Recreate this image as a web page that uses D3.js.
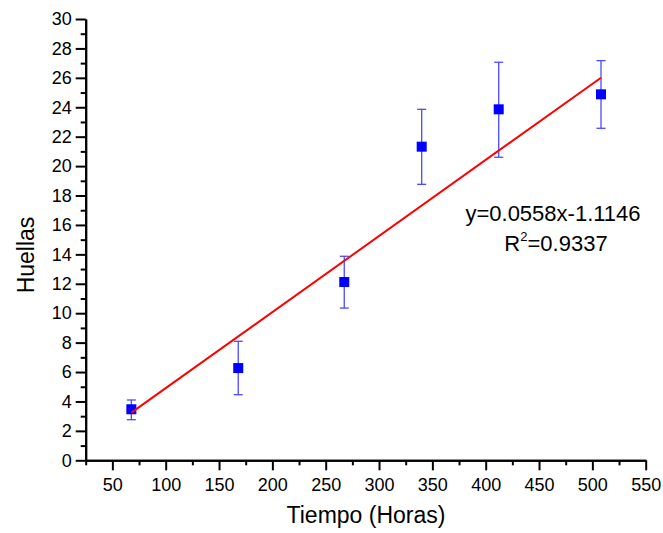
<!DOCTYPE html>
<html><head><meta charset="utf-8">
<script src="https://cdn.jsdelivr.net/npm/d3@7"></script>
<style>body{margin:0;background:#fff}svg{display:block}text{font-family:"Liberation Sans",Arial,sans-serif}</style>
</head><body><svg id="c" width="663" height="533"></svg>
<script>
const xVals = [67.8, 168, 267.4, 340, 412.2, 508.1];
const yVals = [3.47, 6.27, 12.12, 21.32, 23.86, 24.88];
const yHigh = [4.10, 8.09, 13.87, 23.86, 27.06, 27.17];
const yLow  = [2.76, 4.46, 10.35, 18.76, 20.60, 22.57];
const fitX = [67.8, 508.1];
const fitY = [3.24, 26.01];
const xTicks = [50,100,150,200,250,300,350,400,450,500,550];
const yTicks = [0,2,4,6,8,10,12,14,16,18,20,22,24,26,28,30];
const equation = "y=0.0558x-1.1146";
const r2Value = "=0.9337";

const svg = d3.select("#c");
const x = d3.scaleLinear().domain([25,550]).range([85.7,645.7]);
const y = d3.scaleLinear().domain([0,30]).range([460.3,19]);

const xMinor = d3.range(25,551,25).filter(v=>!xTicks.includes(v));
const yMinor = d3.range(1,30,2);

svg.append("g").attr("transform","translate(0,460.3)")
  .call(d3.axisBottom(x).tickValues(xMinor).tickSize(5).tickSizeOuter(0).tickFormat(""));
svg.append("g").attr("transform","translate(0,460.3)")
  .call(d3.axisBottom(x).tickValues(xTicks).tickSize(10).tickSizeOuter(0).tickPadding(8));
svg.append("g").attr("transform","translate(85.7,0)")
  .call(d3.axisLeft(y).tickValues(yMinor).tickSize(5).tickSizeOuter(0).tickFormat(""));
svg.append("g").attr("transform","translate(85.7,0)")
  .call(d3.axisLeft(y).tickValues(yTicks).tickSize(10).tickSizeOuter(0).tickPadding(4));

svg.selectAll(".domain").attr("stroke","#000").attr("stroke-width",2);
svg.selectAll(".tick line").attr("stroke","#000").attr("stroke-width",2);
svg.selectAll(".tick text").attr("font-size",18).attr("fill","#000")
  .style("font-family",'"Liberation Sans",Arial,sans-serif');

const pts = xVals.map((v,i)=>({x:v,y:yVals[i],hi:yHigh[i],lo:yLow[i]}));
const eb = svg.append("g").attr("stroke","#4a4aff").attr("stroke-width",1.3);
eb.selectAll(".v").data(pts).join("line")
  .attr("x1",d=>x(d.x)).attr("x2",d=>x(d.x)).attr("y1",d=>y(d.hi)).attr("y2",d=>y(d.lo));
eb.selectAll(".t").data(pts).join("line")
  .attr("x1",d=>x(d.x)-4.5).attr("x2",d=>x(d.x)+4.5).attr("y1",d=>y(d.hi)).attr("y2",d=>y(d.hi));
eb.selectAll(".b").data(pts).join("line")
  .attr("x1",d=>x(d.x)-4.5).attr("x2",d=>x(d.x)+4.5).attr("y1",d=>y(d.lo)).attr("y2",d=>y(d.lo));

svg.append("g").selectAll("rect").data(pts).join("rect")
  .attr("x",d=>x(d.x)-5).attr("y",d=>y(d.y)-5).attr("width",10).attr("height",10)
  .attr("fill","#0000ff");

svg.append("path").datum(fitX.map((v,i)=>[v,fitY[i]]))
  .attr("d",d3.line().x(d=>x(d[0])).y(d=>y(d[1])))
  .attr("stroke","#ff0000").attr("stroke-width",2).attr("fill","none");

svg.append("text").attr("x",366).attr("y",523).attr("text-anchor","middle")
  .attr("font-size",23).text("Tiempo (Horas)");
svg.append("text").attr("transform","translate(34,255) rotate(-90)").attr("text-anchor","middle")
  .attr("font-size",23).text("Huellas");

svg.append("text").attr("x",553).attr("y",221).attr("text-anchor","middle")
  .attr("font-size",22).text(equation);
const r = svg.append("text").attr("x",556).attr("y",251).attr("text-anchor","middle").attr("font-size",22);
r.append("tspan").text("R");
r.append("tspan").attr("font-size",13).attr("dy",-10).text("2");
r.append("tspan").attr("dy",10).text(r2Value);
</script></body></html>
